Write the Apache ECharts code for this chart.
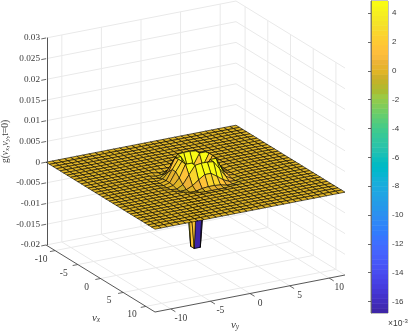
<!DOCTYPE html>
<html><head><meta charset="utf-8">
<style>html,body{margin:0;padding:0;background:#fff}#c{width:410px;height:331px}</style>
<script src="https://cdn.jsdelivr.net/npm/echarts@6/dist/echarts.min.js"></script>
</head><body><div id="c"></div>
<script>
var vxNodes=[-12,-11.226,-10.452,-9.677,-8.903,-8.129,-7.355,-6.581,-5.806,-5.032,-4.258,-3.484,-2.71,-1.935,-1.161,-.387,.387,1.161,1.935,2.71,3.484,4.258,5.032,5.806,6.581,7.355,8.129,8.903,9.677,10.452,11.226,12];
var vyNodes=[-12,-11.226,-10.452,-9.677,-8.903,-8.129,-7.355,-6.581,-5.806,-5.032,-4.258,-3.484,-2.71,-1.935,-1.161,-.387,.387,1.161,1.935,2.71,3.484,4.258,5.032,5.806,6.581,7.355,8.129,8.903,9.677,10.452,11.226,12];
// g(vx,vy,t=0) in units of 1e-3, rows by vx, columns by vy
var gMilli=[
[0,0,0,0,0,0,0,0,0,0,0,0,0,0,0,0,0,0,0,0,0,0,0,0,0,0,0,0,0,0,0,0],
[0,0,0,0,0,0,0,0,0,0,0,0,0,0,0,0,0,0,0,0,0,0,0,0,0,0,0,0,0,0,0,0],
[0,0,0,0,0,0,0,0,0,0,0,0,0,0,0,0,0,0,0,0,0,0,0,0,0,0,0,0,0,0,0,0],
[0,0,0,0,0,0,0,0,0,0,0,0,0,0,0,0,0,0,0,0,0,0,0,0,0,0,0,0,0,0,0,0],
[0,0,0,0,0,0,0,0,0,0,0,0,0,0,0,0,0,0,0,0,0,0,0,0,0,0,0,0,0,0,0,0],
[0,0,0,0,0,0,0,0,0,0,0,0,0,0,0,0,0,0,0,0,0,0,0,0,0,0,0,0,0,0,0,0],
[0,0,0,0,0,0,0,0,0,0,0,0,0,0,0,0,0,0,0,0,0,0,0,0,0,0,0,0,0,0,0,0],
[0,0,0,0,0,0,0,0,0,0,0,0,0,0,0,0,0,0,0,0,0,0,0,0,0,0,0,0,0,0,0,0],
[0,0,0,0,0,0,0,0,0,0,0,0,0,0,0,0,0,0,0,0,0,0,0,0,0,0,0,0,0,0,0,0],
[0,0,0,0,0,0,0,0,0,0,0,0,0,0,0,0,0,0,0,0,0,0,0,0,0,0,0,0,0,0,0,0],
[0,0,0,0,0,0,0,0,0,0,0,0,0,-.1,-.2,-.2,-.2,-.2,-.1,0,0,0,0,0,0,0,0,0,0,0,0,0],
[0,0,0,0,0,0,0,0,0,0,0,0,-.3,-.3,.05,.2,.2,.05,-.3,-.3,0,0,0,0,0,0,0,0,0,0,0,0],
[0,0,0,0,0,0,0,0,0,0,0,-.3,-.2,.5,1.6,2.6,2.6,1.6,.5,-.2,-.3,0,0,0,0,0,0,0,0,0,0,0],
[0,0,0,0,0,0,0,0,0,0,-.1,-.3,.5,2.6,4.6,4.8,4.8,4.6,2.6,.5,-.3,-.1,0,0,0,0,0,0,0,0,0,0],
[0,0,0,0,0,0,0,0,0,0,-.2,.05,1.6,4.6,4.6,2,2,4.6,4.6,1.6,.05,-.2,0,0,0,0,0,0,0,0,0,0],
[0,0,0,0,0,0,0,0,0,0,-.2,.2,2.6,4.8,2,-16.8,-16.8,2,4.8,2.6,.2,-.2,0,0,0,0,0,0,0,0,0,0],
[0,0,0,0,0,0,0,0,0,0,-.2,.2,2.6,4.8,2,-16.8,-16.8,2,4.8,2.6,.2,-.2,0,0,0,0,0,0,0,0,0,0],
[0,0,0,0,0,0,0,0,0,0,-.2,.05,1.6,4.6,4.6,2,2,4.6,4.6,1.6,.05,-.2,0,0,0,0,0,0,0,0,0,0],
[0,0,0,0,0,0,0,0,0,0,-.1,-.3,.5,2.6,4.6,4.8,4.8,4.6,2.6,.5,-.3,-.1,0,0,0,0,0,0,0,0,0,0],
[0,0,0,0,0,0,0,0,0,0,0,-.3,-.2,.5,1.6,2.6,2.6,1.6,.5,-.2,-.3,0,0,0,0,0,0,0,0,0,0,0],
[0,0,0,0,0,0,0,0,0,0,0,0,-.3,-.3,.05,.2,.2,.05,-.3,-.3,0,0,0,0,0,0,0,0,0,0,0,0],
[0,0,0,0,0,0,0,0,0,0,0,0,0,-.1,-.2,-.2,-.2,-.2,-.1,0,0,0,0,0,0,0,0,0,0,0,0,0],
[0,0,0,0,0,0,0,0,0,0,0,0,0,0,0,0,0,0,0,0,0,0,0,0,0,0,0,0,0,0,0,0],
[0,0,0,0,0,0,0,0,0,0,0,0,0,0,0,0,0,0,0,0,0,0,0,0,0,0,0,0,0,0,0,0],
[0,0,0,0,0,0,0,0,0,0,0,0,0,0,0,0,0,0,0,0,0,0,0,0,0,0,0,0,0,0,0,0],
[0,0,0,0,0,0,0,0,0,0,0,0,0,0,0,0,0,0,0,0,0,0,0,0,0,0,0,0,0,0,0,0],
[0,0,0,0,0,0,0,0,0,0,0,0,0,0,0,0,0,0,0,0,0,0,0,0,0,0,0,0,0,0,0,0],
[0,0,0,0,0,0,0,0,0,0,0,0,0,0,0,0,0,0,0,0,0,0,0,0,0,0,0,0,0,0,0,0],
[0,0,0,0,0,0,0,0,0,0,0,0,0,0,0,0,0,0,0,0,0,0,0,0,0,0,0,0,0,0,0,0],
[0,0,0,0,0,0,0,0,0,0,0,0,0,0,0,0,0,0,0,0,0,0,0,0,0,0,0,0,0,0,0,0],
[0,0,0,0,0,0,0,0,0,0,0,0,0,0,0,0,0,0,0,0,0,0,0,0,0,0,0,0,0,0,0,0],
[0,0,0,0,0,0,0,0,0,0,0,0,0,0,0,0,0,0,0,0,0,0,0,0,0,0,0,0,0,0,0,0]
];
var vxTicks=[-10,-5,0,5,10];
var vyTicks=[-10,-5,0,5,10];
var gTicks=[-.02,-.015,-.01,-.005,0,.005,.01,.015,.02,.025,.03];
var colorbarTicks=[-16,-14,-12,-10,-8,-6,-4,-2,0,2,4];
var colorLimits=[-16.8,4.85];
var parula=[[.2422,.1504,.6603],[.2504,.165,.7076],[.2578,.1818,.7511],[.2647,.1978,.7952],[.2706,.2147,.8364],[.2751,.2342,.871],[.2783,.2559,.8991],[.2803,.2782,.9221],[.2813,.3006,.9414],[.281,.3228,.9579],[.2795,.3447,.9717],[.276,.3667,.9829],[.2699,.3892,.9906],[.2602,.4123,.9952],[.244,.4358,.9988],[.2206,.4603,.9973],[.1963,.4847,.9892],[.1834,.5074,.9798],[.1786,.5289,.9682],[.1764,.5499,.952],[.1687,.5703,.9359],[.154,.5902,.9218],[.146,.6091,.9079],[.138,.6276,.8973],[.1248,.6459,.8883],[.1113,.6635,.8763],[.0952,.6798,.8598],[.0689,.6948,.8394],[.0297,.7082,.8163],[.0036,.7203,.7917],[.0067,.7312,.766],[.0433,.7411,.7394],[.0964,.75,.712],[.1408,.7584,.6842],[.1717,.767,.6554],[.1938,.7758,.6251],[.2161,.7843,.5923],[.247,.7918,.5567],[.2906,.7973,.5188],[.3406,.8008,.4789],[.3909,.8029,.4354],[.4456,.8024,.3909],[.5044,.7993,.348],[.5616,.7942,.3045],[.6174,.7876,.2612],[.66,.74,.2],[.71,.72,.18],[.76,.7,.16],[.81,.69,.16],[.88,.71,.15],[.9,.7,.18],[.93,.7,.21],[.9728,.7298,.2394],[.9956,.7434,.2371],[.997,.7659,.2199],[.9952,.7893,.2028],[.9892,.8136,.1885],[.9786,.8386,.1766],[.9676,.8639,.1643],[.961,.889,.1537],[.9597,.9135,.1423],[.9628,.9373,.1265],[.9691,.9606,.1064],[.9769,.9839,.0805]];
// the far wall of the central pit shows the rim colour in the reference
var pitBackFace={i:15,j:16,level:2};

var AXIS='#444', GRID='#e9e9e9', TXT='#3a3a3a', SERIF='"Liberation Serif","DejaVu Serif",serif', SANS='"Liberation Sans",Arial,sans-serif';
var LIM=12, ZMIN=-.02, ZMAX=.03;
// orthographic view: where the box corners land in the scene plane
var P0=[46,245], PX=[109,67], PY=[190,-37], PZ=[0,-207];
function proj(x,y,z){var u=(x+LIM)/(2*LIM),v=(y+LIM)/(2*LIM),w=(z-ZMIN)/(ZMAX-ZMIN);
  return [P0[0]+u*PX[0]+v*PY[0]+w*PZ[0],P0[1]+u*PX[1]+v*PY[1]+w*PZ[1]];}
function depth(x,y,z){return x-.573*y+206*z;}
function css(c){return 'rgb('+Math.round(c[0]*255)+','+Math.round(c[1]*255)+','+Math.round(c[2]*255)+')';}
function colorOf(m){var t=(m-colorLimits[0])/(colorLimits[1]-colorLimits[0]);var i=Math.min(63,Math.max(0,Math.floor(t*64)));return css(parula[i]);}

var quads=[];
for(var i=0;i<vxNodes.length-1;i++)for(var j=0;j<vyNodes.length-1;j++){
  var mx=(vxNodes[i]+vxNodes[i+1])/2,my=(vyNodes[j]+vyNodes[j+1])/2;
  var mz=(gMilli[i][j]+gMilli[i+1][j]+gMilli[i][j+1]+gMilli[i+1][j+1])/4e3;
  quads.push([i,j,depth(mx,my,mz)]);
}
quads.sort(function(a,b){return a[2]-b[2];});

var wallLines=[];
gTicks.forEach(function(z){wallLines.push([[-LIM,-LIM,z],[-LIM,LIM,z]]);wallLines.push([[-LIM,LIM,z],[LIM,LIM,z]]);});
vyTicks.forEach(function(y){wallLines.push([[-LIM,y,ZMIN],[-LIM,y,ZMAX]]);wallLines.push([[-LIM,y,ZMIN],[LIM,y,ZMIN]]);});
vxTicks.forEach(function(x){wallLines.push([[x,LIM,ZMIN],[x,LIM,ZMAX]]);wallLines.push([[x,-LIM,ZMIN],[x,LIM,ZMIN]]);});

function seg(api,a,b,color,w){
  var p=api.coord(proj(a[0],a[1],a[2])),q=api.coord(proj(b[0],b[1],b[2]));
  return {type:'line',shape:{x1:p[0],y1:p[1],x2:q[0],y2:q[1]},style:{stroke:color,lineWidth:w,fill:null},silent:true};
}
function label(p,text,rich,fam){
  return {type:'text',x:p[0],y:p[1],style:{text:text,x:0,y:0,align:'center',verticalAlign:'middle',fill:TXT,font:'9.5px '+fam,rich:rich},silent:true};
}
var richSub={i:{fontFamily:SERIF,fontStyle:'italic',fontSize:11,fill:TXT,color:TXT},s:{fontFamily:SERIF,fontStyle:'italic',fontSize:7.5,fill:TXT,color:TXT,verticalAlign:'bottom',padding:[5,0,0,0]}};

var axisItems=[];
axisItems.push({k:'xline'},{k:'yline'});
vxTicks.forEach(function(v){axisItems.push({k:'xt',v:v});});
vyTicks.forEach(function(v){axisItems.push({k:'yt',v:v});});
gTicks.forEach(function(v){axisItems.push({k:'zt',v:v});});
axisItems.push({k:'xn'},{k:'yn'});

var option={
  animation:false,
  grid:[
    {left:0,top:0,width:410,height:331,show:false},
    {left:371,top:1,width:17,height:312,show:true,borderColor:'#666',borderWidth:.8,backgroundColor:'transparent'},
    {left:46,top:38,width:1,height:207,show:false}
  ],
  xAxis:[
    {gridIndex:0,type:'value',min:0,max:410,show:false},
    {gridIndex:1,type:'value',min:0,max:1,show:false},
    {gridIndex:2,type:'value',min:0,max:1,show:false}
  ],
  yAxis:[
    {gridIndex:0,type:'value',min:0,max:331,inverse:true,show:false},
    {gridIndex:1,type:'value',position:'right',min:colorLimits[0],max:colorLimits[1],z:5,
      splitLine:{show:false},axisLine:{show:true,lineStyle:{color:'#666',width:.8}},
      axisTick:{show:true,inside:true,length:3,lineStyle:{color:'#444',width:.8},customValues:colorbarTicks},
      axisLabel:{color:TXT,fontFamily:SANS,fontSize:8,margin:4,customValues:colorbarTicks,showMinLabel:true,showMaxLabel:true,formatter:function(v){return String(v);}}},
    {gridIndex:2,type:'value',position:'left',min:ZMIN,max:ZMAX,interval:.005,z:5,
      splitLine:{show:false},axisLine:{show:true,onZero:false,lineStyle:{color:'#555',width:1}},axisTick:{show:false},
      axisLabel:{color:TXT,fontFamily:SERIF,fontSize:9.2,margin:7,showMinLabel:true,showMaxLabel:true,formatter:function(v){return String(+v.toFixed(3));}},
      name:'{r|g(}{i|v}{s|x}{r|,}{i|v}{s|y}{r|,t=0)}',nameLocation:'middle',nameRotate:90,nameGap:36,
      nameTextStyle:{rich:{r:{fontFamily:SERIF,fontSize:9.5,color:TXT},i:{fontFamily:SERIF,fontStyle:'italic',fontSize:9.5,color:TXT},s:{fontFamily:SERIF,fontStyle:'italic',fontSize:7,color:TXT,padding:[5,0,0,0]}}}}
  ],
  series:[
    {type:'custom',name:'walls',xAxisIndex:0,yAxisIndex:0,coordinateSystem:'cartesian2d',clip:false,z:1,silent:true,
      data:wallLines.map(function(_,k){return [k];}),
      renderItem:function(p,api){var l=wallLines[api.value(0)];return seg(api,l[0],l[1],GRID,1);}},
    {type:'custom',name:'g surface',xAxisIndex:0,yAxisIndex:0,clip:false,z:2,silent:true,progressive:0,
      data:quads,
      renderItem:function(p,api){
        var i=api.value(0),j=api.value(1);
        var c=[[i,j],[i+1,j],[i+1,j+1],[i,j+1]].map(function(n){
          return api.coord(proj(vxNodes[n[0]],vyNodes[n[1]],gMilli[n[0]][n[1]]/1e3));});
        var lvl=(i===pitBackFace.i&&j===pitBackFace.j)?pitBackFace.level:gMilli[i][j];
        return {type:'polygon',shape:{points:c},style:{fill:colorOf(lvl),stroke:'#000',lineWidth:.6,lineJoin:'round'},silent:true};
      }},
    {type:'custom',name:'axes',xAxisIndex:0,yAxisIndex:0,clip:false,z:3,silent:true,progressive:0,
      data:axisItems.map(function(_,k){return [k];}),
      renderItem:function(p,api){
        var it=axisItems[api.value(0)],v=it.v;
        if(it.k==='xline')return seg(api,[-LIM,-LIM,ZMIN],[LIM,-LIM,ZMIN],AXIS,.9);
        if(it.k==='yline')return seg(api,[LIM,-LIM,ZMIN],[LIM,LIM,ZMIN],AXIS,.9);
        if(it.k==='xt'){var a=proj(v,-LIM,ZMIN);
          return {type:'group',children:[seg(api,[v,-LIM,ZMIN],[v,-LIM-.65,ZMIN],AXIS,.8),label([a[0]-14,a[1]+8.5],String(v),null,SERIF)]};}
        if(it.k==='yt'){var b=proj(LIM,v,ZMIN);
          return {type:'group',children:[seg(api,[LIM,v,ZMIN],[LIM+1,v,ZMIN],AXIS,.8),label([b[0]+10,b[1]+9.5],String(v),null,SERIF)]};}
        if(it.k==='zt')return seg(api,[-LIM,-LIM,v],[-LIM,-LIM-.6,v],AXIS,.8);
        if(it.k==='xn')return label([96,318],'{i|v}{s|x}',richSub,SERIF);
        if(it.k==='yn')return label([235,325],'{i|v}{s|y}',richSub,SERIF);
      }},
    {type:'custom',name:'colorbar',xAxisIndex:1,yAxisIndex:1,clip:true,z:2,silent:true,progressive:0,
      data:parula.map(function(_,k){return [k];}),
      renderItem:function(p,api){
        var k=api.value(0),d=(colorLimits[1]-colorLimits[0])/64;
        var a=api.coord([0,colorLimits[0]+k*d]),b=api.coord([1,colorLimits[0]+(k+1)*d]);
        return {type:'rect',shape:{x:a[0],y:b[1],width:b[0]-a[0],height:a[1]-b[1]+.5},style:{fill:css(parula[k])},silent:true};
      }}
  ],
  graphic:[{type:'text',left:388,top:318,silent:true,style:{text:'×10{u|-3}',fill:TXT,font:'8.5px '+SANS,rich:{u:{fontSize:6,fill:TXT,padding:[0,0,5,0]}}}}]
};
var chart=echarts.init(document.getElementById('c'),null,{renderer:'canvas'});
chart.setOption(option);
</script></body></html>
